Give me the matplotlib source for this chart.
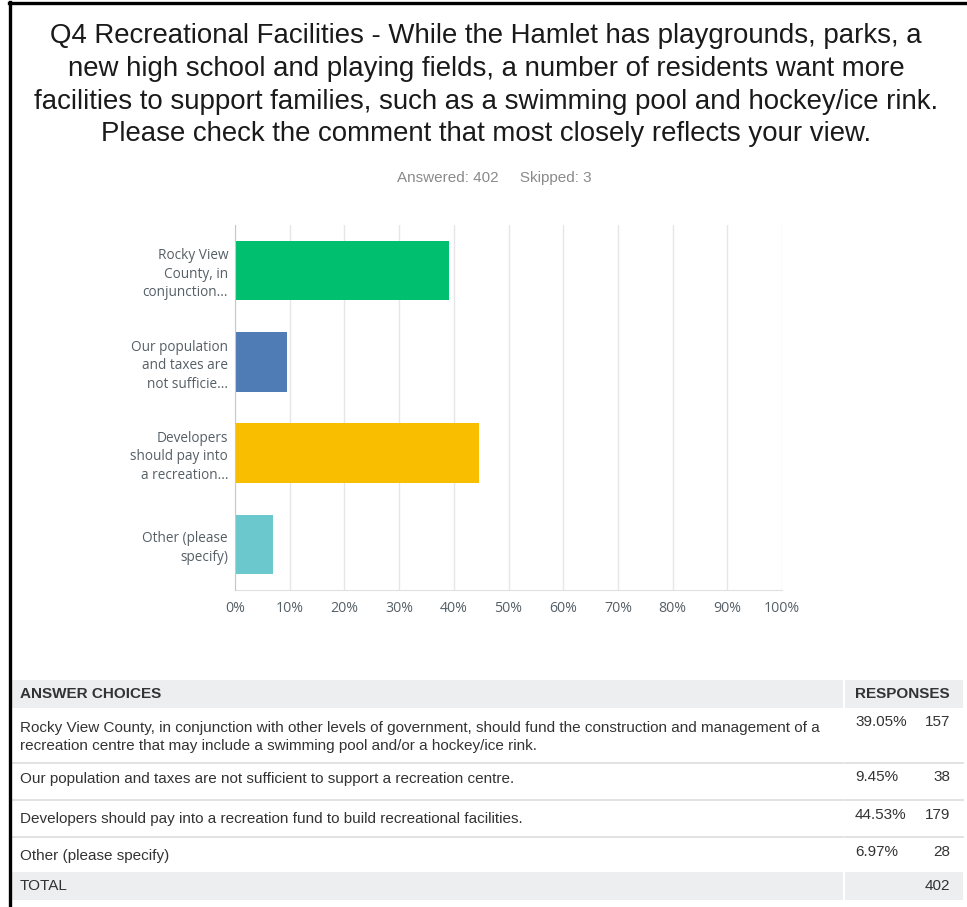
import matplotlib
matplotlib.use("Agg")
import matplotlib.pyplot as plt
from matplotlib.patches import Rectangle
from matplotlib.lines import Line2D

W, H = 967, 907

title = ("Q4 Recreational Facilities - While the Hamlet has playgrounds, parks, a\n"
         "new high school and playing fields, a number of residents want more\n"
         "facilities to support families, such as a swimming pool and hockey/ice rink.\n"
         "Please check the comment that most closely reflects your view.")
subtitle = "Answered: 402     Skipped: 3"

categories = ["Rocky View\nCounty, in\nconjunction...",
              "Our population\nand taxes are\nnot sufficie...",
              "Developers\nshould pay into\na recreation...",
              "Other (please\nspecify)"]
percents = [39.05, 9.45, 44.53, 6.97]
counts = [157, 38, 179, 28]
colors = ["#00BF6F", "#507CB6", "#F9BE00", "#6BC8CD"]
xticks = [0, 10, 20, 30, 40, 50, 60, 70, 80, 90, 100]
xticklabels = [f"{t}%" for t in xticks]

choices = ["Rocky View County, in conjunction with other levels of government, should fund the construction and management of a\n"
           "recreation centre that may include a swimming pool and/or a hockey/ice rink.",
           "Our population and taxes are not sufficient to support a recreation centre.",
           "Developers should pay into a recreation fund to build recreational facilities.",
           "Other (please specify)"]
total = 402

fig = plt.figure(figsize=(W / 100, H / 100), dpi=100)


def fx(x):
    return x / W


def fy(y):
    return 1 - y / H


# Title and subtitle
fig.text(fx(486), fy(23), title, ha="center", va="top", fontsize=19.9,
         family="Liberation Sans", color="#1a1a1a", linespacing=1.34)
fig.text(fx(494), fy(178), subtitle, ha="center", va="center", fontsize=11,
         family="Liberation Sans", color="#8a8a8a")

# Chart
ax = fig.add_axes([fx(235), fy(590), fx(782) - fx(235), (590 - 225) / H])
y = list(range(len(categories)))
ax.barh(y, percents, height=0.65, color=colors, zorder=3)
ax.set_xlim(0, 100)
ax.set_ylim(3.5, -0.5)
ax.set_xticks(xticks)
ax.set_xticklabels(xticklabels, family="Open Sans", fontsize=10.2, color="#555f66")
ax.set_yticks(y)
ax.set_yticklabels(categories, family="Open Sans", fontsize=9.8, color="#555f66",
                   linespacing=1.32)
ax.tick_params(axis="both", length=0)
ax.tick_params(axis="x", pad=8)
ax.tick_params(axis="y", pad=5)
ax.grid(axis="x", color="#e6e6e6", linewidth=1, zorder=0)
for s in ["top", "right"]:
    ax.spines[s].set_visible(False)
ax.spines["left"].set_color("#c8c8c8")
ax.spines["bottom"].set_color("#e0e0e0")
ax.spines["left"].set_zorder(4)

# Table
tfont = dict(family="Liberation Sans", fontsize=11, color="#333333")
gray = "#ECEEEF"
sep = 843
fig.add_artist(Rectangle((fx(12), fy(708)), fx(sep - 12), (708 - 680) / H,
                         transform=fig.transFigure, color=gray, lw=0))
fig.add_artist(Rectangle((fx(sep + 2), fy(708)), fx(963 - sep - 2), (708 - 680) / H,
                         transform=fig.transFigure, color=gray, lw=0))
fig.add_artist(Rectangle((fx(12), fy(900)), fx(sep - 12), (900 - 872) / H,
                         transform=fig.transFigure, color=gray, lw=0))
fig.add_artist(Rectangle((fx(sep + 2), fy(900)), fx(963 - sep - 2), (900 - 872) / H,
                         transform=fig.transFigure, color=gray, lw=0))
for ly in [763, 800, 837]:
    fig.add_artist(Line2D([fx(12), fx(sep)], [fy(ly), fy(ly)], color="#dddddd", lw=1.2))
    fig.add_artist(Line2D([fx(sep + 2), fx(963)], [fy(ly), fy(ly)], color="#dddddd", lw=1.2))

fig.text(fx(20), fy(694), "ANSWER CHOICES", ha="left", va="center",
         fontweight="bold", **tfont)
fig.text(fx(950), fy(694), "RESPONSES", ha="right", va="center",
         fontweight="bold", **tfont)

row_text_y = [737, 779, 819, 856]
row_val_y = [722, 777, 815, 852]
for txt, ty, vy, p, c in zip(choices, row_text_y, row_val_y, percents, counts):
    fig.text(fx(20), fy(ty), txt, ha="left", va="center", linespacing=1.35, **tfont)
    fig.text(fx(855), fy(vy), f"{p:.2f}%", ha="left", va="center", **tfont)
    fig.text(fx(950), fy(vy), f"{c}", ha="right", va="center", **tfont)

fig.text(fx(20), fy(886), "TOTAL", ha="left", va="center", **tfont)
fig.text(fx(950), fy(886), f"{total}", ha="right", va="center", **tfont)

# Frame
fig.add_artist(Line2D([fx(9.5), fx(9.5)], [fy(2), 0], color="black", lw=2.4))
fig.add_artist(Line2D([fx(8.5), 1], [fy(3), fy(3)], color="black", lw=2.4))

fig.savefig("out.png", dpi=100)
